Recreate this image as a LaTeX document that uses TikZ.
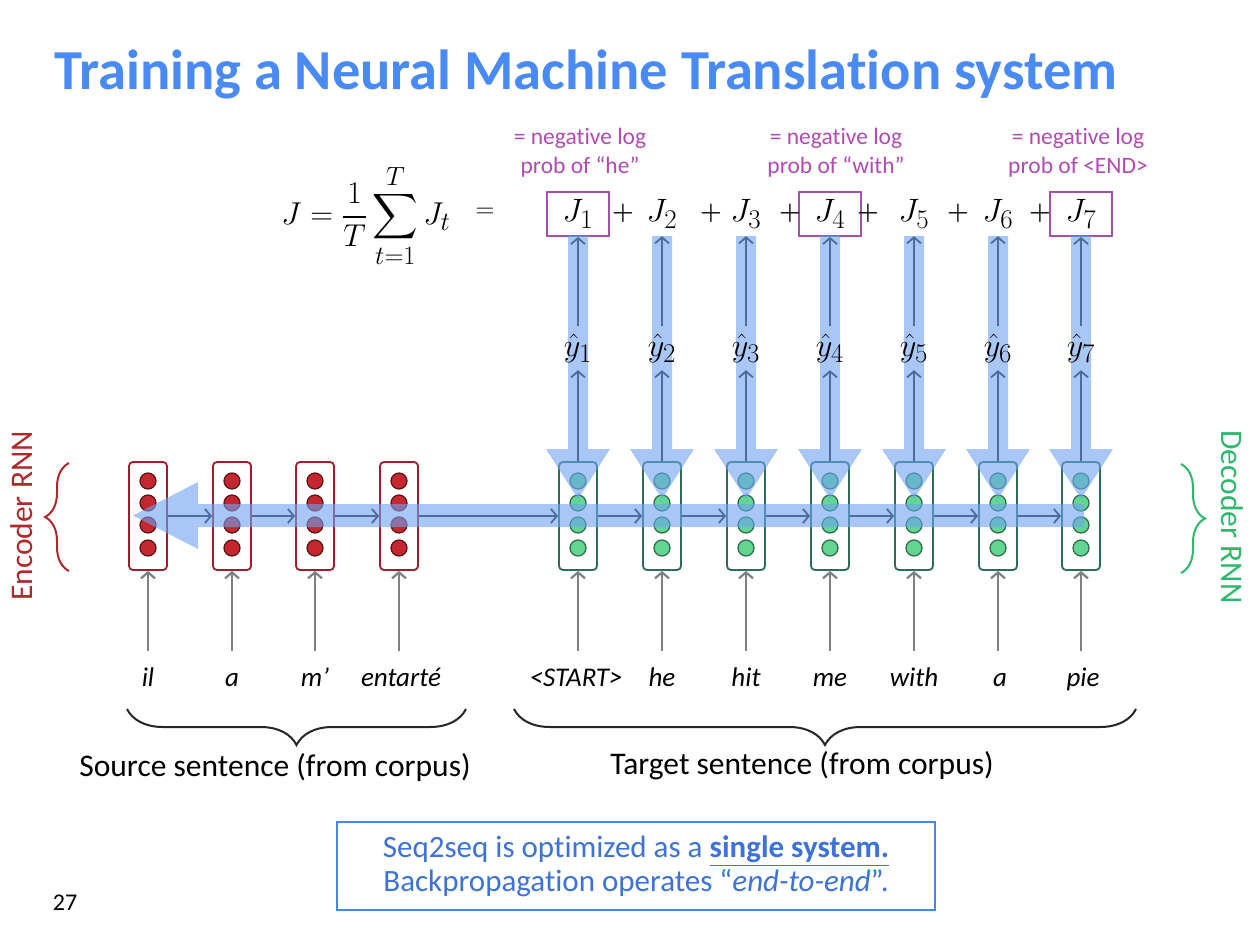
\documentclass[tikz,border=0pt]{standalone}
\usepackage{amsmath}
\usepackage{graphicx}
\usepackage{fontspec}
\setmainfont{Carlito}[Ligatures=NoCommon]
\usetikzlibrary{arrows.meta,decorations.pathreplacing,calc}
\definecolor{titleblue}{HTML}{4A8AF4}
\definecolor{annot}{HTML}{B24AB4}
\definecolor{jbox}{HTML}{A352A8}
\definecolor{encred}{HTML}{A01E2B}
\definecolor{dotred}{HTML}{C4272F}
\definecolor{dotredb}{HTML}{5C1212}
\definecolor{decgreen}{HTML}{2F6E55}
\definecolor{dotgreen}{HTML}{62D592}
\definecolor{dotgreenb}{HTML}{2A6A48}
\definecolor{bandblue}{HTML}{6EA3F2}
\definecolor{thinblue}{HTML}{4D6C9E}
\definecolor{ingray}{HTML}{808080}
\definecolor{enclabel}{HTML}{B0282C}
\definecolor{declabel}{HTML}{2DB86B}
\definecolor{boxblue}{HTML}{4A86E8}
\definecolor{boxtext}{HTML}{3D72D9}
\tikzset{
  fs/.style={font=\fontsize{#1}{#1}\selectfont},
  mathfs/.style={font=\fontsize{24.88}{30}\selectfont},
  encbox/.style={draw=encred, line width=1.8pt, rounded corners=4pt, minimum width=38pt, minimum height=108pt, inner sep=0pt},
  decbox/.style={draw=decgreen, line width=1.8pt, rounded corners=4pt, minimum width=38pt, minimum height=108pt, inner sep=0pt},
  reddot/.style={fill=dotred, draw=dotredb, line width=1.2pt},
  greendot/.style={fill=dotgreen, draw=dotgreenb, line width=1.2pt},
  thinarr/.style={draw=thinblue, line width=1.8pt, -{Straight Barb[length=6pt,width=14pt]}},
  inarr/.style={draw=ingray, line width=2.2pt, -{Straight Barb[length=6pt,width=14pt]}},
  word/.style={font=\fontsize{27}{27}\selectfont\itshape, text height=19pt, text depth=6pt, minimum height=58pt, inner sep=0pt},
  jnode/.style={mathfs, minimum width=62pt, minimum height=44pt, inner sep=0pt},
  jboxed/.style={jnode, draw=jbox, line width=1.8pt},
  yhat/.style={mathfs, minimum height=44pt, inner sep=0pt},
  annotxt/.style={font=\fontsize{23.5}{29}\selectfont, text=annot, align=center},
  bracepath/.style={draw=black!85, line width=2pt, decorate},
}
\newcommand{\mybigmath}[1]{\scalebox{1.3}{$#1$}}
\begin{document}
\begin{tikzpicture}[x=1pt,y=-1pt]
\useasboundingbox (0,0) rectangle (1254,942);
\fill[white] (0,0) rectangle (1254,942);

% title
\node[anchor=west, text=titleblue, font=\fontsize{56.5}{56.5}\selectfont\bfseries] (title) at (51,74) {Training a Neural Machine Translation system};

% equation
\node[mathfs] (eq) at (366,216) {\scalebox{1.27}{$J = \dfrac{1}{T}\displaystyle\sum_{t=1}^{T} J_t$}};
\node[mathfs] (eqs) at (485,213) {\scalebox{1.05}{$=$}};

% J nodes
\node[jboxed] (J1) at (578,214) {\mybigmath{J_1}};
\node[jnode] (J2) at (662,214) {\mybigmath{J_2}};
\node[jnode] (J3) at (746,214) {\mybigmath{J_3}};
\node[jboxed] (J4) at (830,214) {\mybigmath{J_4}};
\node[jnode] (J5) at (914,214) {\mybigmath{J_5}};
\node[jnode] (J6) at (998,214) {\mybigmath{J_6}};
\node[jboxed] (J7) at (1081,214) {\mybigmath{J_7}};
\foreach \p/\x in {1/623,2/711,3/790,4/868,5/958,6/1040}
  \node[mathfs] (plus\p) at (\x,213) {$\boldsymbol{+}$};

% annotations
\node[annotxt] (a1) at (580,153) {= negative log\\prob of “he”};
\node[annotxt] (a4) at (836,153) {= negative log\\prob of “with”};
\node[annotxt] (a7) at (1078,153) {= negative log\\prob of <END>};

% encoder cells
\foreach \i/\x in {1/148,2/232,3/315,4/399} {
  \node[encbox] (e\i) at (\x,516) {};
  \foreach \dy in {481,503,525,548}
    \draw[reddot] (\x,\dy) circle (8);
}
% decoder cells
\foreach \i/\x in {1/578,2/662,3/746,4/830,5/914,6/998,7/1081} {
  \node[decbox] (d\i) at (\x,516) {};
  \foreach \dy in {481,503,525,548}
    \draw[greendot] (\x,\dy) circle (8);
}

% blue backprop overlay
\begin{scope}[transparency group, opacity=0.6]
\fill[bandblue] (196,504) rectangle (1084,527);
\fill[bandblue] (198,482) -- (133,515.5) -- (198,549) -- cycle;
\foreach \x in {578,662,746,830,914,998,1081} {
  \fill[bandblue] (\x-10,236) rectangle (\x+10,450);
  \fill[bandblue] (\x-32,449) -- (\x,499) -- (\x+32,449) -- cycle;
}
\end{scope}

% y hat labels
\foreach \i/\x in {1/578,2/662,3/746,4/830,5/914,6/998,7/1081}
  \node[yhat] (y\i) at (\x,348) {\mybigmath{\hat{y}_{\i}}};

% thin vertical arrows
\foreach \i in {1,...,7} {
  \draw[thinarr] (d\i.north) -- (y\i.south);
  \draw[thinarr] (y\i.north) -- (J\i.south);
}
% thin horizontal arrows
\draw[thinarr] (e1.east) -- (e2.west);
\draw[thinarr] (e2.east) -- (e3.west);
\draw[thinarr] (e3.east) -- (e4.west);
\draw[thinarr] (e4.east) -- (d1.west);
\foreach \i/\j in {1/2,2/3,3/4,4/5,5/6,6/7}
  \draw[thinarr] (d\i.east) -- (d\j.west);

% words
\node[word] (w1) at (148,680) {il};
\node[word] (w2) at (232,680) {a};
\node[word] (w3) at (315,680) {m’};
\node[word] (w4) at (401,680) {entarté};
\node[word] (v1) at (576,680) {<START>};
\node[word] (v2) at (662,680) {he};
\node[word] (v3) at (746,680) {hit};
\node[word] (v4) at (830,680) {me};
\node[word] (v5) at (914,680) {with};
\node[word] (v6) at (1000,680) {a};
\node[word] (v7) at (1083,680) {pie};
\foreach \i in {1,...,4} \draw[inarr] (w\i.north -| e\i.south) -- (e\i.south);
\foreach \i in {1,...,7} \draw[inarr] (v\i.north -| d\i.south) -- (d\i.south);

% braces
\coordinate (sb1) at (127,709);
\coordinate (sb2) at (466,709);
\coordinate (tb1) at (514,709);
\coordinate (tb2) at (1136,709);
\draw[bracepath, decoration={brace, mirror, amplitude=36pt}] (sb1) -- (sb2);
\draw[bracepath, decoration={brace, mirror, amplitude=36pt}] (tb1) -- (tb2);
\node[fs=31.5] (src) at (275,768) {Source sentence (from corpus)};
\node[fs=31.5] (tgt) at (802,766) {Target sentence (from corpus)};

% side braces
\coordinate (eb1) at (69,571);
\coordinate (eb2) at (69,463);
\coordinate (db1) at (1181,464);
\coordinate (db2) at (1181,573);
\draw[draw=enclabel, line width=2pt, decorate, decoration={brace, amplitude=24pt}] (eb1) -- (eb2);
\draw[draw=declabel, line width=2pt, decorate, decoration={brace, amplitude=24pt}] (db1) -- (db2);
\node[fs=31.5, text=enclabel, rotate=90] (encl) at (22,516) {Encoder RNN};
\node[fs=31.5, text=declabel, rotate=-90] (decl) at (1232,517) {Decoder RNN};

% bottom box
\node[draw=boxblue, line width=1.6pt, minimum width=598pt, minimum height=88pt, font=\fontsize{31}{34}\selectfont, text=boxtext, align=center] (msg) at (636,866)
  {Seq2seq is optimized as a \underline{\textbf{single system.}}\\Backpropagation operates “\textit{end-to-end}”.};

\node[fs=24] (pg) at (65,903) {27};
\end{tikzpicture}
\end{document}
